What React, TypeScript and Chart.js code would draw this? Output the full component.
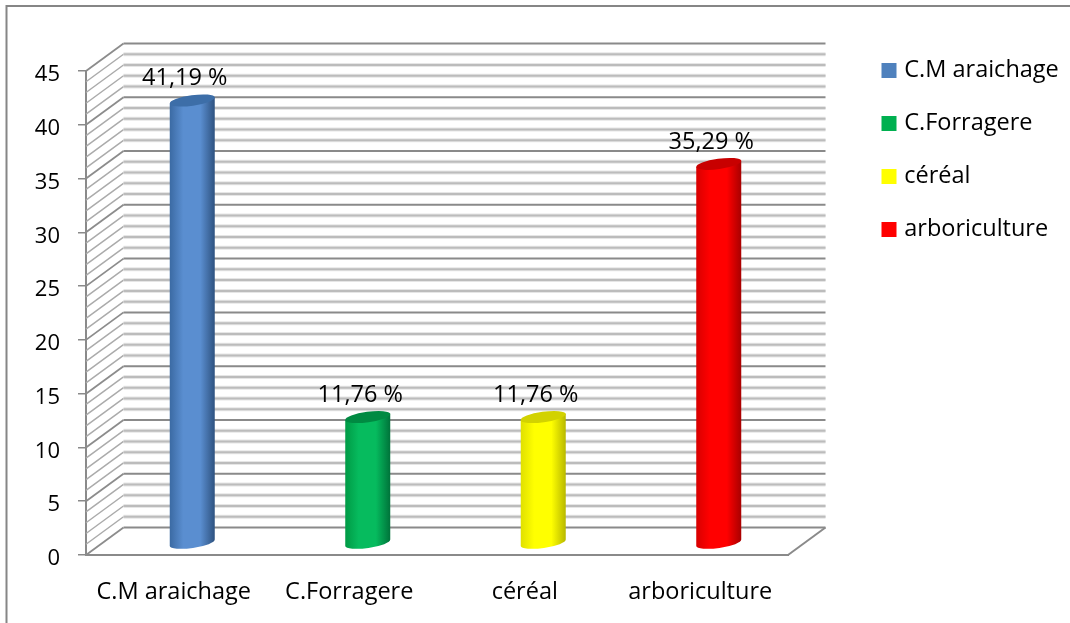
import React, { useEffect, useRef } from "react";
import { Chart, registerables } from "chart.js";

Chart.register(...registerables);

const categories = ["C.M araichage", "C.Forragere", "céréal", "arboriculture"];
const values = [41.19, 11.76, 11.76, 35.29];
const valueLabels = ["41,19 %", "11,76 %", "11,76 %", "35,29 %"];
const colors = ["#4f81bd", "#00b050", "#ffff00", "#ff0000"];
const edgeLeft = ["#3b6aa3", "#009a45", "#e0e000", "#d80000"];
const edgeRight = ["#2e5280", "#00733a", "#b8b800", "#a80000"];
const capColors = ["#3d6ea8", "#008a42", "#d2d200", "#c80000"];
const centerColors = ["#5a8ed0", "#06bb5e", "#ffff00", "#ff0000"];

const FONT = "'Open Sans', sans-serif";
const TICK_SIZE = 22;
const TEXT_SIZE = 23.5;
const DEPTH_X = 37.5;
const DEPTH_Y = 27.5;
const BAR_SHIFT_X = 18.5;
const BAR_SHIFT_Y = 11.5;

const wallsPlugin = {
  id: "walls",
  beforeDatasetsDraw(chart: any) {
    const { ctx, chartArea, scales } = chart;
    const y = scales.y;
    const { left, right, bottom } = chartArea;
    ctx.save();
    // outer frame
    ctx.strokeStyle = "#868686";
    ctx.lineWidth = 2;
    ctx.beginPath();
    ctx.moveTo(1070, 6);
    ctx.lineTo(6.5, 6);
    ctx.lineTo(6.5, 623);
    ctx.stroke();

    for (let v = y.max; v >= y.min; v -= 1) {
      const py = y.getPixelForValue(v);
      const major = v % 5 === 0;
      // side wall
      ctx.strokeStyle = major ? "#8c8c8c" : "#ababab";
      ctx.lineWidth = major ? 1.8 : 1.5;
      ctx.beginPath();
      ctx.moveTo(left, py);
      ctx.lineTo(left + DEPTH_X, py - DEPTH_Y);
      ctx.stroke();
      // back wall
      if (!major) {
        ctx.strokeStyle = "#e6e6e6";
        ctx.lineWidth = 4;
        ctx.beginPath();
        ctx.moveTo(left + DEPTH_X, py - DEPTH_Y);
        ctx.lineTo(right + DEPTH_X, py - DEPTH_Y);
        ctx.stroke();
      }
      ctx.strokeStyle = major ? "#8a8a8a" : "#bcbcbc";
      ctx.lineWidth = 2;
      ctx.beginPath();
      ctx.moveTo(left + DEPTH_X, py - DEPTH_Y);
      ctx.lineTo(right + DEPTH_X, py - DEPTH_Y);
      ctx.stroke();
    }
    // floor edge
    ctx.strokeStyle = "#8a8a8a";
    ctx.lineWidth = 2;
    ctx.beginPath();
    ctx.moveTo(right, bottom);
    ctx.lineTo(right + DEPTH_X, bottom - DEPTH_Y);
    ctx.stroke();
    ctx.restore();
  },
  afterLayout(chart: any) {
    const lg = chart.legend;
    if (!lg) return;
    lg.left = 856;
    lg.right = 1070;
    lg.top = 29.25;
    lg.bottom = 623;
  },
};

const cylinderPlugin = {
  id: "cylinders",
  beforeDatasetDraw(chart: any, args: any) {
    const { ctx } = chart;
    const meta = args.meta;
    meta.data.forEach((bar: any, i: number) => {
      const cx = bar.x + BAR_SHIFT_X;
      const half = bar.width / 2;
      const top = bar.y - BAR_SHIFT_Y;
      const base = bar.base - BAR_SHIFT_Y;
      const tilt = -0.14;
      const ry = 5.2;
      const rx = half / Math.cos(tilt);
      const dy = half * Math.tan(tilt);
      const g = ctx.createLinearGradient(cx - half, 0, cx + half, 0);
      g.addColorStop(0, edgeLeft[i]);
      g.addColorStop(0.3, centerColors[i]);
      g.addColorStop(0.68, centerColors[i]);
      g.addColorStop(1, edgeRight[i]);
      ctx.save();
      ctx.fillStyle = g;
      ctx.beginPath();
      ctx.moveTo(cx - half, top - dy);
      ctx.lineTo(cx + half, top + dy);
      ctx.lineTo(cx + half, base + dy);
      ctx.ellipse(cx, base, rx, ry, tilt, 0, Math.PI);
      ctx.closePath();
      ctx.fill();
      ctx.fillStyle = capColors[i];
      ctx.beginPath();
      ctx.ellipse(cx, top, rx, ry, tilt, 0, Math.PI * 2);
      ctx.fill();
      ctx.restore();
    });
    return false;
  },
  afterDatasetsDraw(chart: any) {
    const { ctx } = chart;
    const meta = chart.getDatasetMeta(0);
    ctx.save();
    ctx.font = `${TEXT_SIZE}px ${FONT}`;
    ctx.fillStyle = "#000";
    ctx.textAlign = "center";
    ctx.textBaseline = "middle";
    meta.data.forEach((bar: any, i: number) => {
      ctx.fillText(valueLabels[i], bar.x + 11, bar.y - 33.5);
    });
    ctx.restore();
  },
};

export default function App() {
  const ref = useRef<HTMLCanvasElement | null>(null);
  useEffect(() => {
    if (!ref.current) return;
    const chart = new Chart(ref.current, {
      type: "bar",
      data: {
        labels: categories,
        datasets: [
          {
            data: values,
            backgroundColor: colors,
            barPercentage: 0.2564,
            categoryPercentage: 1,
          },
        ],
      },
      plugins: [wallsPlugin, cylinderPlugin],
      options: {
        responsive: false,
        animation: false,
        layout: { padding: { top: 71, right: 282, left: 0, bottom: 0 } },
        plugins: {
          tooltip: { enabled: false },
          title: { display: false },
          legend: {
            display: true,
            position: "chartArea",
            align: "start",
            labels: {
              color: "#000",
              font: { family: FONT, size: TEXT_SIZE },
              boxWidth: 7,
              boxHeight: 7,
              padding: 29.5,
              generateLabels: () =>
                categories.map((text, i) => ({
                  text,
                  fillStyle: colors[i],
                  strokeStyle: colors[i],
                  lineWidth: 8,
                  hidden: false,
                  index: i,
                })),
            },
          },
        },
        scales: {
          x: {
            afterFit: (s: any) => {
              s.height = 68;
            },
            grid: { display: false },
            border: { display: true, color: "#8a8a8a", width: 2 },
            ticks: {
              color: "#000",
              font: { family: FONT, size: TEXT_SIZE },
              padding: 15,
              maxRotation: 0,
              autoSkip: false,
            },
          },
          y: {
            min: 0,
            max: 45,
            afterFit: (s: any) => {
              s.width = 86;
            },
            grid: {
              drawOnChartArea: false,
              drawTicks: true,
              tickLength: 8,
              color: "#8a8a8a",
              lineWidth: 1.5,
            },
            border: { display: true, color: "#8a8a8a", width: 2 },
            ticks: {
              stepSize: 5,
              color: "#000",
              font: { family: FONT, size: TICK_SIZE },
              padding: 18,
              labelOffset: 4,
            },
          },
        },
      } as any,
    });
    return () => chart.destroy();
  }, []);
  return (
    <div style={{ position: "fixed", left: 0, top: 0, width: 1070, height: 623, background: "#fff" }}>
      <canvas ref={ref} width={1070} height={623} style={{ display: "block" }} />
    </div>
  );
}
